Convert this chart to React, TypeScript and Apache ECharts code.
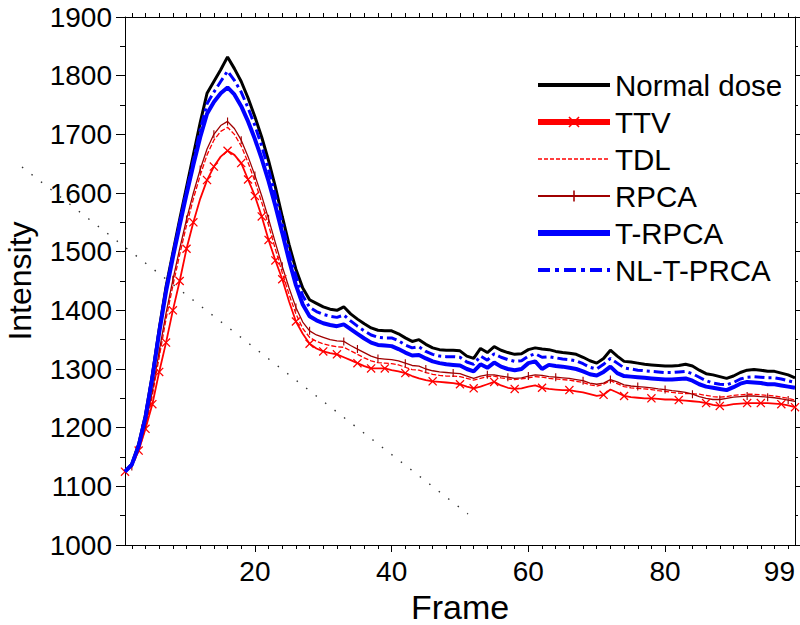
import React, { useEffect, useRef } from 'react';
import * as echarts from 'echarts';

const frames: number[] = Array.from({ length: 99 }, (_, i) => i + 1);

const seriesNames = ['Normal dose', 'TTV', 'TDL', 'RPCA', 'T-RPCA', 'NL-T-PRCA'];

const normalDose = [
  1125, 1138, 1172, 1222, 1290, 1368, 1440, 1498, 1555, 1610,
  1665, 1720, 1770, 1790, 1810, 1832, 1812, 1790, 1762, 1730,
  1695, 1655, 1610, 1560, 1512, 1470, 1438, 1418, 1412, 1406,
  1402, 1400, 1406, 1394, 1385, 1377, 1370, 1366, 1365, 1365,
  1360, 1353, 1347, 1350, 1342, 1336, 1333, 1332, 1332, 1331,
  1322, 1318, 1335, 1328, 1338, 1332, 1328, 1325, 1326, 1333,
  1336, 1334, 1333, 1330, 1328, 1327, 1325, 1320, 1314, 1310,
  1318, 1332, 1322, 1313, 1312, 1310, 1308, 1307, 1306, 1305,
  1305, 1306, 1308, 1305, 1298, 1292, 1290, 1287, 1284, 1288,
  1294, 1298, 1299, 1298, 1296, 1296, 1293, 1290, 1285,
];

const ttv = [
  1125, 1135, 1161, 1198, 1240, 1295, 1345, 1400, 1450, 1505,
  1550, 1590, 1622, 1645, 1662, 1672, 1665, 1651, 1623, 1595,
  1560, 1520, 1485, 1453, 1415, 1381, 1360, 1343, 1335, 1330,
  1327, 1325, 1320, 1315, 1310, 1305, 1301, 1301, 1301, 1298,
  1296, 1293, 1288, 1284, 1281, 1279, 1278, 1277, 1276, 1274,
  1270, 1267, 1270, 1274, 1278, 1272, 1268, 1266, 1267, 1270,
  1272, 1268, 1266, 1265, 1264, 1264, 1262, 1260, 1257, 1254,
  1256, 1265, 1260, 1254, 1252, 1251, 1250, 1250, 1249, 1248,
  1248, 1247, 1246, 1245, 1244, 1242, 1239, 1237, 1238, 1240,
  1241, 1242, 1242, 1242, 1242, 1241, 1240, 1238, 1235,
];

const tdl = [
  1125, 1133, 1160, 1200, 1255, 1320, 1385, 1442, 1495, 1545,
  1590, 1630, 1665, 1690, 1705, 1712, 1700, 1680, 1652, 1620,
  1584, 1545, 1504, 1464, 1427, 1394, 1369, 1354, 1347, 1343,
  1340, 1338, 1337, 1331, 1325, 1319, 1314, 1311, 1310, 1309,
  1307, 1303, 1299, 1298, 1294, 1291, 1289, 1288, 1288, 1287,
  1284, 1281, 1284, 1287, 1288, 1285, 1283, 1282, 1283, 1285,
  1287, 1286, 1284, 1283, 1282, 1281, 1279, 1277, 1273, 1271,
  1274, 1280, 1275, 1270, 1268, 1267, 1266, 1265, 1263, 1262,
  1260, 1259, 1258, 1258, 1257, 1255, 1253, 1252, 1253, 1255,
  1256, 1257, 1257, 1256, 1255, 1254, 1252, 1250, 1247,
];

const rpca = [
  1125, 1134, 1163, 1205, 1262, 1330, 1395, 1452, 1505, 1555,
  1600, 1640, 1675, 1700, 1715, 1722, 1710, 1690, 1662, 1630,
  1595, 1556, 1515, 1475, 1438, 1405, 1380, 1365, 1358, 1354,
  1350, 1348, 1347, 1340, 1334, 1328, 1322, 1318, 1317, 1316,
  1314, 1310, 1306, 1305, 1300, 1297, 1295, 1294, 1293, 1292,
  1288, 1284, 1288, 1290, 1290, 1288, 1286, 1284, 1285, 1288,
  1290, 1289, 1287, 1286, 1285, 1284, 1282, 1280, 1276, 1274,
  1276, 1282, 1278, 1273, 1271, 1270, 1269, 1268, 1266, 1265,
  1263, 1262, 1260, 1257, 1253, 1250, 1248, 1248, 1250, 1252,
  1253, 1254, 1254, 1253, 1252, 1251, 1249, 1247, 1245,
];

const tRpca = [
  1125, 1137, 1169, 1218, 1285, 1362, 1432, 1490, 1545, 1598,
  1648, 1695, 1735, 1755, 1770, 1780, 1768, 1748, 1722, 1692,
  1658, 1620, 1578, 1532, 1485, 1443, 1410, 1390, 1383, 1378,
  1375, 1373, 1376, 1368, 1360, 1352, 1345, 1341, 1340, 1339,
  1334, 1328, 1323, 1324, 1318, 1313, 1310, 1308, 1307, 1306,
  1300, 1296, 1308, 1302, 1311, 1304, 1300, 1298, 1300, 1310,
  1313, 1300, 1307, 1305, 1304, 1302, 1300, 1296, 1291, 1289,
  1295, 1304, 1293, 1288, 1287, 1286, 1285, 1284, 1283, 1282,
  1282, 1283, 1284, 1280, 1274, 1270, 1268, 1266, 1264, 1269,
  1275, 1278, 1277, 1276, 1274, 1274, 1272, 1270, 1268,
];

const nlTPrca = [
  1125, 1137, 1170, 1220, 1288, 1365, 1436, 1494, 1550, 1604,
  1655, 1708, 1752, 1772, 1790, 1808, 1792, 1772, 1745, 1715,
  1680, 1640, 1596, 1548, 1500, 1458, 1425, 1405, 1398, 1393,
  1390, 1388, 1392, 1382, 1373, 1365, 1358, 1354, 1353, 1353,
  1348, 1341, 1336, 1338, 1330, 1325, 1322, 1321, 1321, 1320,
  1312, 1308, 1322, 1315, 1326, 1320, 1316, 1313, 1314, 1322,
  1326, 1320, 1321, 1319, 1317, 1316, 1314, 1309, 1303, 1300,
  1308, 1318, 1310, 1302, 1300, 1298, 1297, 1296, 1295, 1294,
  1294, 1295, 1296, 1292, 1286, 1280, 1276, 1274, 1273, 1277,
  1283, 1286, 1287, 1286, 1285, 1285, 1283, 1280, 1277,
];

const ttvMarkerFrames = [1, 3, 4, 5, 6, 7, 8, 9, 10, 11, 13, 14, 16, 18, 19, 20, 21, 22, 23, 24, 26, 28, 30, 32, 35, 37, 39, 42, 46, 50, 52, 55, 58, 62, 66, 71, 74, 78, 82, 86, 88, 92, 94, 97, 99];
const rpcaMarkerFrames = [2, 4, 6, 8, 10, 12, 14, 16, 18, 20, 22, 24, 26, 28, 33, 35, 38, 42, 45, 49, 54, 57, 60, 64, 68, 72, 76, 80, 84, 88, 92, 95, 98];

const xTickLabels = [20, 40, 60, 80, 99];
const xMajorTicks = [20, 40, 60, 80];
const xMinorTicks = frames.filter((f) => f % 2 === 0);
const yMin = 1000;
const yMax = 1900;
const yStep = 100;

const FONT = '"Liberation Sans", Arial, Helvetica, sans-serif';
const CROSS = 'path://M0,1L1,0L5,4L9,0L10,1L6,5L10,9L9,10L5,6L1,10L0,9L4,5Z';
const VBAR = 'path://M4.3,0L5.7,0L5.7,10L4.3,10Z M0,5L0,5Z M10,5L10,5Z';

export default function App() {
  const ref = useRef<HTMLDivElement>(null);
  useEffect(() => {
    if (!ref.current) return;
    const chart = echarts.init(ref.current, null, { renderer: 'svg' });
    const toData = (arr: number[]) => frames.map((f, i) => [f, arr[i]]);
    const ttvSet = new Set(ttvMarkerFrames);
    const rpcaSet = new Set(rpcaMarkerFrames);
    const axisLine = { show: true, lineStyle: { color: '#000', width: 1 } };

    const option: any = {
      animation: false,
      backgroundColor: '#fff',
      textStyle: { fontFamily: FONT },
      grid: { left: 125, right: 5, top: 17, bottom: 80, containLabel: false, outerBoundsMode: 'none' },
      xAxis: [
        {
          type: 'value', min: 1, max: 99, position: 'bottom',
          axisLine,
          axisTick: { show: true, customValues: xMajorTicks, length: 7, lineStyle: { color: '#000' } },
          axisLabel: {
            show: true, customValues: xTickLabels, fontSize: 28, color: '#000', margin: 12,
            fontFamily: FONT, alignMaxLabel: 'right', formatter: (v: number) => String(v),
          },
          splitLine: { show: false },
          name: 'Frame', nameLocation: 'middle', nameGap: 45,
          nameTextStyle: { fontSize: 34, color: '#000', fontFamily: FONT, lineHeight: 34 },
        },
        {
          type: 'value', min: 1, max: 99, position: 'bottom',
          axisLine: { show: false },
          axisTick: { show: true, customValues: xMinorTicks, length: 4, lineStyle: { color: '#000' } },
          axisLabel: { show: false },
          splitLine: { show: false },
        },
        {
          type: 'value', min: 1, max: 99, position: 'top',
          axisLine,
          axisTick: { show: true, customValues: xMinorTicks, length: 4, lineStyle: { color: '#000' } },
          axisLabel: { show: false },
          splitLine: { show: false },
        },
      ],
      yAxis: [
        {
          type: 'value', min: yMin, max: yMax, interval: yStep, position: 'left',
          axisLine,
          axisTick: { show: true, length: 9, lineStyle: { color: '#000' } },
          minorTick: { show: true, splitNumber: 2, length: 5, lineStyle: { color: '#000' } },
          axisLabel: {
            fontSize: 28, color: '#000', margin: 13, fontFamily: FONT, lineHeight: 24,
            formatter: (v: number) => String(v),
          },
          splitLine: { show: false },
          minorSplitLine: { show: false },
          name: 'Intensity', nameLocation: 'middle', nameGap: 90,
          nameTextStyle: { fontSize: 32, color: '#000', fontFamily: FONT, lineHeight: 30 },
        },
        {
          type: 'value', min: yMin, max: yMax, interval: yStep, position: 'right',
          axisLine,
          axisTick: { show: true, length: 5, lineStyle: { color: '#000' } },
          minorTick: { show: true, splitNumber: 2, length: 3, lineStyle: { color: '#000' } },
          axisLabel: { show: false },
          splitLine: { show: false },
        },
      ],
      legend: {
        show: true,
        orient: 'vertical',
        left: 535,
        top: 70,
        padding: 0,
        itemWidth: 72,
        itemHeight: 14,
        itemGap: 7,
        textStyle: { fontSize: 29.5, color: '#000', fontFamily: FONT, lineHeight: 30 },
        data: [
          { name: seriesNames[0], lineStyle: { width: 4, type: 'solid' }, itemStyle: { opacity: 0 } },
          { name: seriesNames[1], lineStyle: { width: 6, type: 'solid' }, itemStyle: { borderWidth: 0 } },
          { name: seriesNames[2], lineStyle: { width: 1.6, type: [4, 2] }, itemStyle: { opacity: 0 } },
          { name: seriesNames[3], lineStyle: { width: 2, type: 'solid' }, itemStyle: { borderWidth: 0 } },
          { name: seriesNames[4], lineStyle: { width: 6, type: 'solid' }, itemStyle: { opacity: 0 } },
          { name: seriesNames[5], lineStyle: { width: 4, type: [12, 5, 4, 5] }, itemStyle: { opacity: 0 } },
        ],
      },
      graphic: [
        {
          type: 'line', z: 1, silent: true,
          shape: { x1: 22, y1: 167, x2: 468, y2: 514 },
          style: { stroke: '#333', lineWidth: 1.4, lineDash: [1.5, 10.5] },
        },
      ],
      series: [
        {
          name: seriesNames[0], type: 'line', data: toData(normalDose), symbol: 'none',
          lineStyle: { color: '#000', width: 3 }, itemStyle: { color: '#000' }, z: 2,
        },
        {
          name: seriesNames[1], type: 'line', data: toData(ttv), symbol: CROSS,
          symbolSize: (_v: any, p: any) => (ttvSet.has(p.dataIndex + 1) ? 9 : 0),
          showSymbol: true,
          lineStyle: { color: '#ff0000', width: 1.8 }, itemStyle: { color: '#ff0000' }, z: 3,
        },
        {
          name: seriesNames[2], type: 'line', data: toData(tdl), symbol: 'none',
          lineStyle: { color: '#ff0000', width: 1.3, type: [5, 2] }, itemStyle: { color: '#ff0000' }, z: 3,
        },
        {
          name: seriesNames[3], type: 'line', data: toData(rpca), symbol: VBAR,
          symbolSize: (_v: any, p: any) => (rpcaSet.has(p.dataIndex + 1) ? 8 : 0),
          showSymbol: true,
          lineStyle: { color: '#a00000', width: 1.3 }, itemStyle: { color: '#a00000' }, z: 3,
        },
        {
          name: seriesNames[4], type: 'line', data: toData(tRpca), symbol: 'none',
          lineStyle: { color: '#0000ff', width: 4 }, itemStyle: { color: '#0000ff' }, z: 4,
        },
        {
          name: seriesNames[5], type: 'line', data: toData(nlTPrca), symbol: 'none',
          lineStyle: { color: '#0000ff', width: 3, type: [10, 4, 3, 4] }, itemStyle: { color: '#0000ff' }, z: 4,
        },
      ],
    };
    option.series.forEach((s: any) => {
      s.emphasis = { disabled: true };
      s.silent = true;
    });
    chart.setOption(option);
    return () => chart.dispose();
  }, []);
  return (
    <div
      ref={ref}
      style={{ position: 'fixed', left: 0, top: 0, width: 800, height: 625, background: '#fff' }}
    />
  );
}
